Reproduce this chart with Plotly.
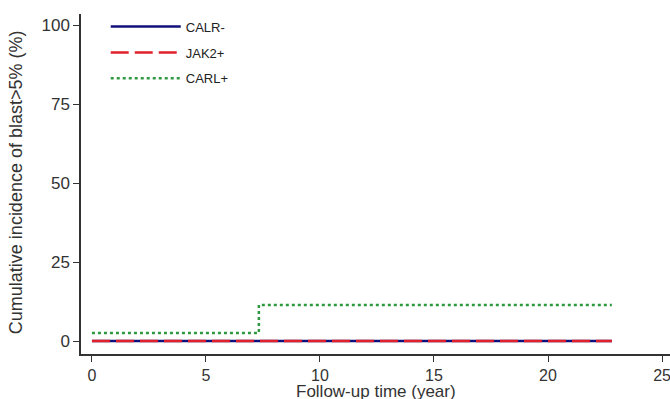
import plotly.graph_objects as go

# Data (step functions)
calr_minus_t = [0, 22.8]
calr_minus_y = [0, 0]
jak2_t = [0, 22.8]
jak2_y = [0, 0]
carl_plus_t = [0, 7.32, 22.8]
carl_plus_y = [2.5, 11.4, 11.4]

x_ticks = [0, 5, 10, 15, 20, 25]
y_ticks = [0, 25, 50, 75, 100]

FONT = "Liberation Sans, Arial, sans-serif"

fig = go.Figure()
fig.add_trace(go.Scatter(x=calr_minus_t, y=calr_minus_y, mode="lines", name="CALR-",
                         legendgroup="a",
                         line=dict(color="#10107a", width=2.5, shape="hv")))
fig.add_trace(go.Scatter(x=jak2_t, y=jak2_y, mode="lines", name="JAK2+",
                         legendgroup="b",
                         line=dict(color="#e0202a", width=2.5, shape="hv", dash="18px,6px")))
fig.add_trace(go.Scatter(x=carl_plus_t, y=carl_plus_y, mode="lines", name="CARL+",
                         legendgroup="c",
                         line=dict(color="#2e9a40", width=2.5, shape="hv", dash="3px,3px")))

fig.update_layout(
    width=670, height=399,
    margin=dict(l=81, r=0, t=14, b=45),
    paper_bgcolor="white", plot_bgcolor="white",
    font=dict(family=FONT, color="#333333"),
    legend=dict(x=0.042, y=1.007, xanchor="left", yanchor="top",
                font=dict(size=13, family=FONT, color="#222222"),
                bgcolor="rgba(0,0,0,0)", itemwidth=70, tracegroupgap=6),
    showlegend=True,
    annotations=[
        dict(text="Follow-up time (year)", xref="paper", yref="paper",
             x=0.501, y=-0.11, xanchor="center", yanchor="middle", showarrow=False,
             font=dict(size=17, family=FONT, color="#333")),
        dict(text="Cumulative incidence of blast>5% (%)", xref="paper", yref="paper",
             x=-0.110, y=0.506, xanchor="center", yanchor="middle", showarrow=False,
             textangle=-90, font=dict(size=18, family=FONT, color="#333")),
    ],
)
fig.update_xaxes(range=[-0.48, 25.35], tickvals=x_ticks, ticks="outside", ticklen=6,
                 tickwidth=1.3, tickcolor="#333", showline=True, linecolor="#333",
                 linewidth=1.5, showgrid=False, zeroline=False, automargin=False,
                 ticklabeloverflow="allow",
                 tickfont=dict(size=16, family=FONT, color="#333"))
fig.update_yaxes(range=[-4.11, 103.5], tickvals=y_ticks, ticks="outside", ticklen=6,
                 tickwidth=1.3, tickcolor="#333", showline=True, linecolor="#333",
                 linewidth=1.5, showgrid=False, zeroline=False, automargin=False,
                 tickfont=dict(size=17, family=FONT, color="#333"))

fig.write_html("out.html", config={"displayModeBar": False},
               post_script="document.body.style.margin='0';")
